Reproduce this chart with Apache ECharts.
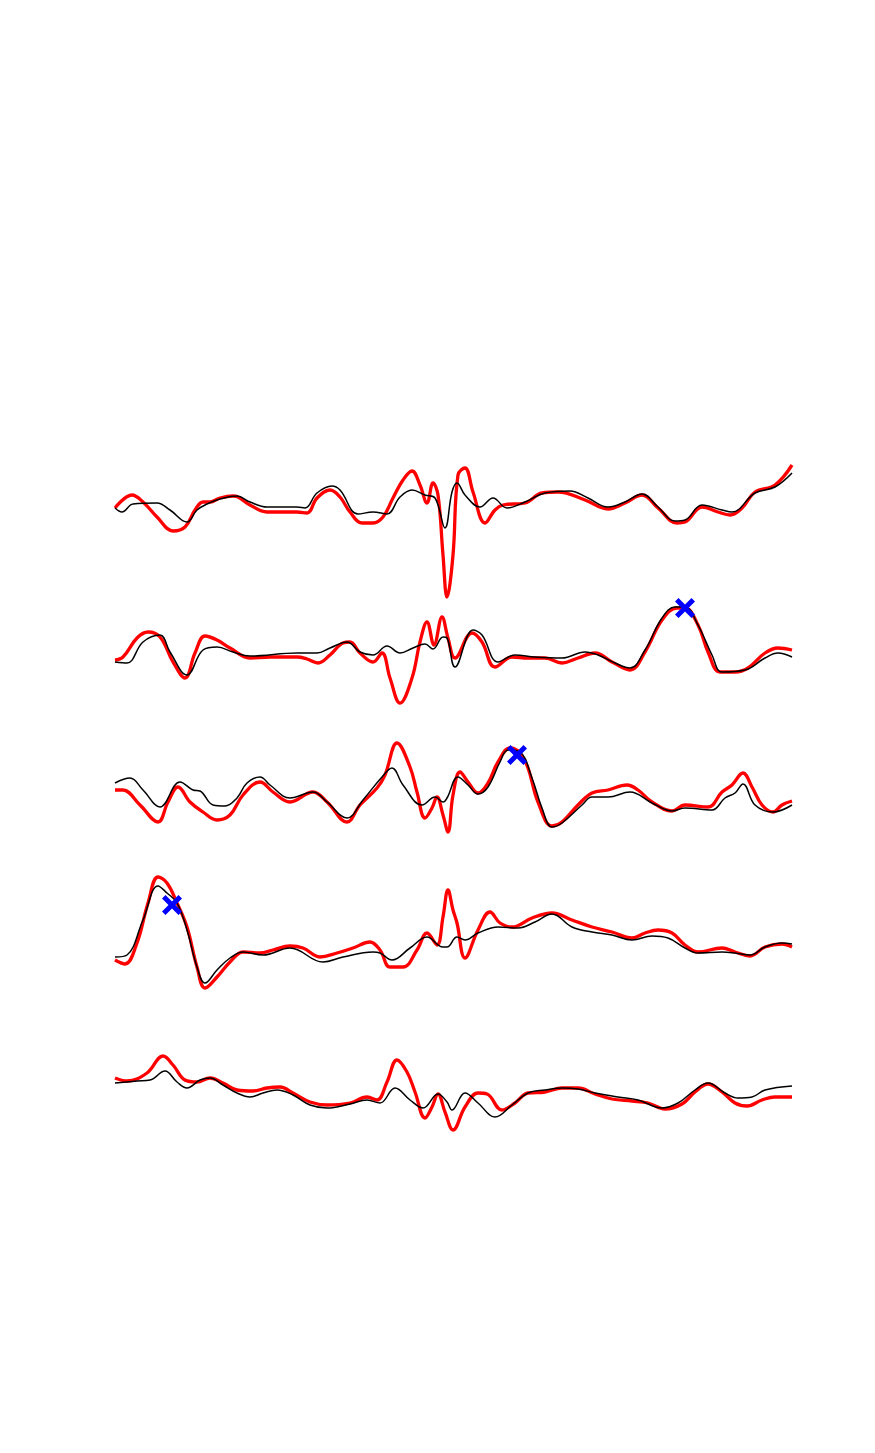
<!DOCTYPE html>
<html>
<head>
<meta charset="utf-8">
<title>Channel traces</title>
<script src="https://cdn.jsdelivr.net/npm/echarts@6/dist/echarts.min.js"></script>
<style>
  html, body { margin: 0; padding: 0; background: #fff; }
  #chart { width: 875px; height: 1453px; }
</style>
</head>
<body>
<div id="chart"></div>
<script>
// time (ms) / amplitude pairs per channel, amplitude relative to the channel baseline
var spacing = 146;

var ch0Red = [[0,-3],[17,10],[28,3],[42,-12],[58,-26],[70,-22],[80,-5],[88,3],[95,3],[105,7],[118,9],[123,8],[135,0],[152,-7],[182,-7],[192,-8],[202,7],[215,15],[225,8],[235,-7],[247,-18],[258,-18],[268,-12],[278,7],[288,25],[297,34],[305,20],[312,2],[318,22],[323,10],[328,-50],[332,-92],[338,-50],[343,30],[350,37],[358,13],[370,-18],[380,-5],[388,0],[410,2],[427,12],[443,13],[470,5],[493,-4],[510,2],[527,10],[543,-3],[562,-18],[570,-17],[587,-2],[603,-7],[615,-10],[627,-3],[640,13],[660,20],[677,40]];
var ch0Black = [[0,-3],[7,-7],[18,1],[42,2],[55,-5],[72,-17],[82,-5],[92,1],[105,6],[122,9],[135,3],[152,-2],[182,-2],[190,-3],[202,12],[217,19],[225,15],[243,-9],[258,-7],[272,-9],[285,8],[297,15],[310,10],[320,7],[330,-23],[337,13],[342,22],[350,10],[365,-2],[378,7],[392,-3],[410,3],[430,12],[455,14],[473,7],[493,-2],[510,3],[527,11],[543,-2],[560,-16],[570,-15],[587,0],[607,-5],[617,-7],[640,12],[660,18],[677,32]];

var ch1Red = [[0,-9],[8,-6],[22,13],[33,19],[45,14],[58,-11],[70,-27],[80,-2],[90,15],[102,11],[115,3],[135,-7],[155,-6],[182,-6],[192,-8],[203,-12],[215,-4],[228,8],[235,9],[245,-2],[258,-11],[267,-2],[275,-27],[285,-52],[297,-27],[305,9],[312,29],[319,6],[327,34],[333,13],[340,-7],[357,18],[367,9],[380,-16],[397,-6],[413,-7],[430,-7],[447,-12],[463,-7],[480,-2],[497,-11],[515,-19],[530,-1],[547,31],[562,43],[570,43],[583,26],[593,-1],[605,-21],[620,-21],[633,-17],[650,-2],[663,3],[677,1]];
var ch1Black = [[0,-11],[12,-12],[28,9],[45,16],[55,-1],[72,-24],[88,1],[102,4],[118,-1],[135,-5],[182,-2],[202,-2],[215,3],[232,9],[245,-1],[258,-4],[272,5],[285,-2],[298,3],[310,7],[318,2],[328,14],[332,13],[340,-16],[358,21],[367,16],[383,-11],[400,-4],[420,-6],[447,-7],[470,-1],[483,-4],[500,-12],[515,-17],[530,1],[547,33],[560,44],[570,44],[583,26],[597,-4],[607,-21],[630,-19],[650,-7],[663,-2],[677,-6]];

var ch2Red = [[0,7],[8,7],[25,-8],[43,-25],[53,-5],[63,10],[75,-5],[88,-15],[102,-23],[115,-18],[128,2],[145,15],[158,5],[175,-5],[198,5],[212,-5],[232,-25],[245,-8],[262,9],[270,22],[282,54],[295,30],[302,5],[310,-21],[317,-11],[322,0],[328,-18],[333,-35],[338,2],[345,25],[353,15],[363,4],[373,14],[383,35],[395,49],[405,44],[413,29],[423,-5],[437,-29],[447,-25],[463,-8],[477,4],[493,7],[512,12],[523,7],[537,-5],[557,-14],[570,-8],[593,-10],[607,5],[617,12],[628,24],[637,10],[647,-8],[658,-15],[667,-8],[677,-4]];
var ch2Black = [[0,14],[15,19],[28,7],[45,-10],[65,15],[78,7],[85,6],[98,-8],[110,-9],[122,-1],[132,14],[145,20],[155,12],[175,-1],[198,5],[212,-5],[232,-21],[248,-3],[267,20],[277,29],[288,12],[307,-8],[320,0],[328,-5],[332,-1],[343,20],[353,12],[363,3],[373,10],[385,35],[393,47],[405,45],[417,19],[427,-11],[437,-30],[447,-26],[467,-8],[477,0],[493,0],[515,5],[537,-6],[557,-14],[570,-11],[597,-13],[610,-1],[620,4],[628,13],[640,-8],[658,-15],[677,-8]];

var ch3Red = [[0,-17],[10,-21],[22,0],[33,40],[43,66],[52,60],[62,40],[72,16],[82,-24],[90,-45],[102,-34],[115,-19],[128,-9],[145,-10],[158,-7],[175,-3],[188,-5],[205,-14],[222,-10],[238,-5],[255,1],[265,-7],[275,-24],[288,-24],[302,-7],[312,10],[322,-2],[328,26],[333,53],[338,33],[342,20],[350,-15],[363,13],[375,31],[385,20],[397,16],[417,25],[437,30],[457,23],[477,16],[497,11],[517,5],[530,10],[543,13],[557,10],[570,-2],[583,-9],[607,-5],[620,-9],[635,-13],[650,-4],[667,-1],[677,-4]];
var ch3Black = [[0,-14],[12,-12],[28,23],[43,57],[52,50],[62,40],[72,13],[82,-24],[90,-40],[102,-27],[115,-15],[128,-9],[148,-12],[175,-5],[208,-19],[228,-14],[258,-9],[265,-10],[277,-17],[295,-5],[312,6],[328,-4],[332,-4],[342,6],[350,3],[363,10],[383,16],[403,15],[420,21],[437,29],[457,16],[477,11],[497,8],[517,3],[537,7],[553,5],[570,-5],[583,-10],[607,-9],[620,-10],[635,-12],[650,-4],[667,0],[677,-1]];

var ch4Red = [[0,11],[12,8],[32,16],[48,33],[58,24],[70,9],[82,7],[95,11],[108,6],[122,-1],[138,-2],[152,1],[165,2],[178,-4],[195,-13],[212,-16],[235,-14],[252,-8],[262,-11],[272,7],[282,29],[292,17],[300,-3],[310,-29],[317,-18],[323,-5],[330,-23],[338,-41],[350,-18],[363,-4],[372,-5],[387,-21],[400,-14],[413,-4],[430,-3],[447,1],[463,1],[480,-5],[497,-10],[517,-12],[533,-14],[550,-20],[567,-15],[580,-3],[593,5],[607,-3],[620,-14],[632,-17],[647,-11],[660,-8],[677,-8]];
var ch4Black = [[0,6],[22,8],[35,9],[50,18],[62,7],[72,1],[85,9],[95,11],[108,4],[122,-4],[135,-8],[148,-4],[162,-1],[178,-6],[195,-16],[212,-19],[235,-15],[252,-11],[265,-14],[280,1],[295,-11],[308,-19],[323,-5],[332,-13],[337,-21],[350,-4],[363,-14],[380,-28],[397,-16],[413,-4],[430,-1],[447,1],[463,0],[480,-4],[503,-8],[523,-11],[547,-19],[563,-14],[580,-1],[593,6],[610,-4],[623,-9],[637,-8],[650,-1],[677,3]];

// picked peaks: [channel, time, amplitude]
var peaks = [[1,570,43],[2,402,42],[3,57,38]];

var redTraces = [ch0Red, ch1Red, ch2Red, ch3Red, ch4Red];
var blackTraces = [ch0Black, ch1Black, ch2Black, ch3Black, ch4Black];

function shift(trace, ch) {
  return trace.map(function (p) { return [p[0], p[1] - ch * spacing]; });
}

var series = [];
redTraces.forEach(function (tr, i) {
  series.push({
    type: 'line', data: shift(tr, i), smooth: 0.4, showSymbol: false,
    lineStyle: { color: '#ff0000', width: 3.3 }, z: 2
  });
});
blackTraces.forEach(function (tr, i) {
  series.push({
    type: 'line', data: shift(tr, i), smooth: 0.4, showSymbol: false,
    lineStyle: { color: '#000000', width: 1.5 }, z: 3
  });
});
series.push({
  type: 'scatter',
  data: peaks.map(function (p) { return [p[1], p[2] - p[0] * spacing]; }),
  symbol: 'path://M0,3.5 L3.5,0 L10,6.5 L16.5,0 L20,3.5 L13.5,10 L20,16.5 L16.5,20 L10,13.5 L3.5,20 L0,16.5 L6.5,10 Z',
  symbolSize: 20,
  itemStyle: { color: '#0000ff', opacity: 1 },
  z: 5
});

var chart = echarts.init(document.getElementById('chart'));
chart.setOption({
  animation: false,
  backgroundColor: '#ffffff',
  grid: { left: 115, right: 83, top: 405, bottom: 264 },
  xAxis: { type: 'value', min: 0, max: 677, show: false },
  yAxis: { type: 'value', min: -684, max: 100, show: false },
  series: series
});
</script>
</body>
</html>
